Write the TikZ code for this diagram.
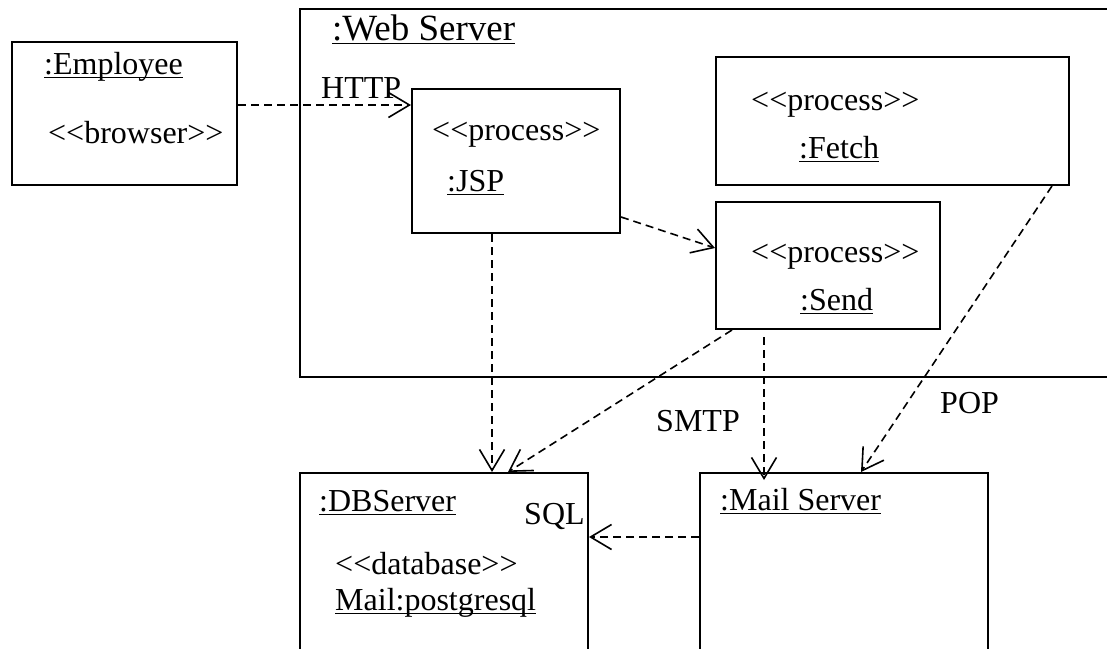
\documentclass[tikz,border=0pt]{standalone}
\usepackage{fontspec}
\setmainfont{Liberation Serif}
\usetikzlibrary{arrows.meta}

% underline at a fixed depth under the baseline
\newcommand{\uln}[1]{\sbox0{#1}\rlap{\rule[-4.2pt]{\wd0}{1.6pt}}\usebox0}
% stereotype brackets, kept apart so that << does not become a guillemet
\newcommand{\stereo}[1]{<\kern0pt<#1>\kern0pt>}

\tikzset{
	box/.style={draw, rectangle, line width=2pt, inner sep=0pt},
	txt/.style={anchor=base west, inner sep=0pt, font=\fontsize{32}{38}\selectfont},
	dep/.style={line width=1.6pt, dash pattern=on 8pt off 5pt,
		-{Straight Barb[length=21pt, width=25pt]}}
}

\begin{document}
\begin{tikzpicture}[x=1pt, y=-1pt]
	\path[use as bounding box, fill=white] (0,0) rectangle (1107,648);
	\clip (0,0) rectangle (1107,648);

	% boxes
	\node[box, minimum width=225pt, minimum height=143pt] (employee) at (124.5,113.5) {};
	\node[box, minimum width=820pt, minimum height=368pt] (webserver) at (710,193) {};
	\node[box, minimum width=208pt, minimum height=144pt] (jsp) at (516,161) {};
	\node[box, minimum width=353pt, minimum height=128pt] (fetch) at (892.5,121) {};
	\node[box, minimum width=224pt, minimum height=127pt] (send) at (828,265.5) {};
	\node[box, minimum width=288pt, minimum height=192pt] (dbserver) at (444,569) {};
	\node[box, minimum width=288pt, minimum height=192pt] (mailserver) at (844,569) {};

	% texts
	\node[txt] (employeename) at (44,74) {\uln{:Employee}};
	\node[txt] (browser) at (48,143) {\stereo{browser}};
	\node[txt, font=\fontsize{37}{44}\selectfont] (webname) at (332,40) {\uln{:Web Server}};
	\node[txt] (http) at (321,98) {HTTP};
	\node[txt] (jspstereo) at (432,140) {\stereo{process}};
	\node[txt] (jspname) at (447,191) {\uln{:JSP}};
	\node[txt] (fetchstereo) at (751,110) {\stereo{process}};
	\node[txt] (fetchname) at (799,158) {\uln{:Fetch}};
	\node[txt] (sendstereo) at (751,262) {\stereo{process}};
	\node[txt] (sendname) at (800,310) {\uln{:Send}};
	\node[txt] (smtp) at (656,431) {SMTP};
	\node[txt] (pop) at (940,413) {POP};
	\node[txt] (dbname) at (319,511) {\uln{:DBServer}};
	\node[txt] (sql) at (524,524) {SQL};
	\node[txt] (dbstereo) at (335,574) {\stereo{database}};
	\node[txt] (dbmail) at (335,610) {\uln{Mail:postgresql}};
	\node[txt] (mailname) at (720,510) {\uln{:Mail Server}};

	% dependencies
	\draw[dep] ([yshift=8.5pt]employee.east) -- ([yshift=8.5pt]employee.east -| jsp.west);
	\draw[dep] ([yshift=-56pt]jsp.east) -- ([yshift=17.5pt]send.west);
	\draw[dep] ([xshift=-24pt]jsp.south) -- ([xshift=-24pt]jsp.south |- dbserver.north);
	\draw[dep] ([xshift=-96pt]send.south) -- ([xshift=64pt]dbserver.north);
	\draw[dep, shorten <=7pt, shorten >=-8pt] ([xshift=-64pt]send.south)
		-- ([xshift=-64pt]send.south |- mailserver.north);
	\draw[dep] ([xshift=159.5pt]fetch.south) -- ([xshift=17pt]mailserver.north);
	\draw[dep] ([yshift=32pt]mailserver.west) -- ([yshift=32pt]mailserver.west -| dbserver.east);
\end{tikzpicture}
\end{document}
